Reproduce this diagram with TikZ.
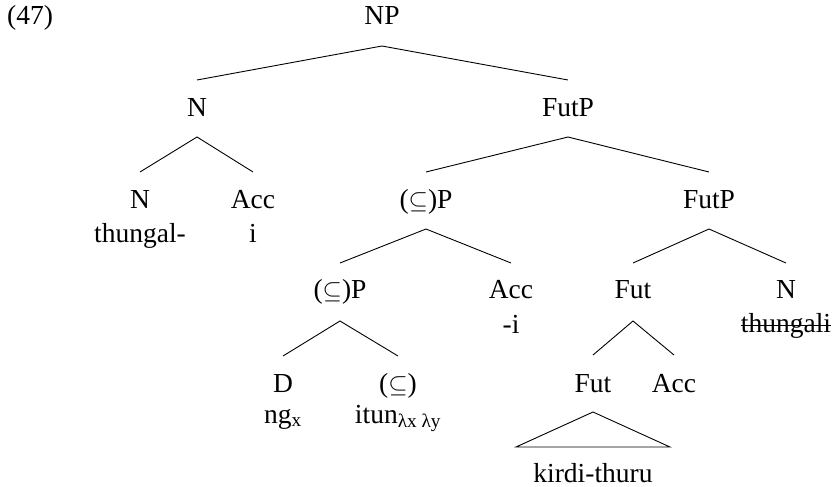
\documentclass[tikz,border=0pt]{standalone}
\usepackage{fontspec}
\setmainfont{Liberation Serif}
\begin{document}
\begin{tikzpicture}[x=1pt,y=-1pt,
  lbl/.style={anchor=base,inner sep=0pt,font=\fontsize{27.5}{34}\selectfont},
  edge/.style={line width=0.9pt,black}]
\useasboundingbox (0,0) rectangle (838,487);
% labels
\node[lbl,anchor=base west] (ex) at (7,25) {(47)};
\node[lbl] (np) at (382,25) {NP};
\node[lbl] (n1) at (197,116) {N};
\node[lbl] (futp1) at (568,116) {FutP};
\node[lbl] (n2) at (140,208) {N};
\node[lbl] (n2w) at (140,242) {thungal-};
\node[lbl] (acc1) at (253,208) {Acc};
\node[lbl] (acc1w) at (253,242) {i};
\node[lbl] (sp1) at (426,208) {($\subseteq$)P};
\node[lbl] (futp2) at (709,208) {FutP};
\node[lbl] (sp2) at (340,298) {($\subseteq$)P};
\node[lbl] (acc2) at (511,298) {Acc};
\node[lbl] (acc2w) at (511,333) {-i};
\node[lbl] (fut1) at (633,298) {Fut};
\node[lbl] (n3) at (786,298) {N};
\node[lbl] (n3w) at (786,332) {thungali};
\node[lbl] (d) at (283,392) {D};
\node[lbl] (dw) at (283,423) {ng\textsubscript{x}};
\node[lbl] (s) at (398,392) {($\subseteq$)};
\node[lbl] (sw) at (398,423) {itun\textsubscript{λx λy}};
\node[lbl] (fut2) at (593,392) {Fut};
\node[lbl] (acc3) at (674,392) {Acc};
\node[lbl] (kirdi) at (593,482) {kirdi-thuru};
% strike-through
\draw[edge] ([yshift=7pt]n3w.base west) -- ([yshift=7pt]n3w.base east);
% branches
\draw[edge] ([yshift=36pt]n1.base) -- ([yshift=-21pt]np.base) -- ([yshift=36pt]futp1.base);
\draw[edge] ([yshift=36pt]n2.base) -- ([yshift=-21pt]n1.base) -- ([yshift=36pt]acc1.base);
\draw[edge] ([yshift=36pt]sp1.base) -- ([yshift=-21pt]futp1.base) -- ([yshift=36pt]futp2.base);
\draw[edge] ([yshift=35pt]sp2.base) -- ([yshift=-21pt]sp1.base) -- ([yshift=35pt]acc2.base);
\draw[edge] ([yshift=35pt]fut1.base) -- ([yshift=-21pt]futp2.base) -- ([yshift=35pt]n3.base);
\draw[edge] ([yshift=36pt]d.base) -- ([yshift=-23pt]sp2.base) -- ([yshift=36pt]s.base);
\draw[edge] ([yshift=37pt]fut2.base) -- ([yshift=-23pt]fut1.base) -- ([yshift=37pt]acc3.base);
% triangle
\draw[edge,line join=miter] ([yshift=-20pt]fut2.base) -- ([xshift=-77pt,yshift=35pt]kirdi.base) -- ([xshift=77pt,yshift=35pt]kirdi.base) -- cycle;
\end{tikzpicture}
\end{document}
